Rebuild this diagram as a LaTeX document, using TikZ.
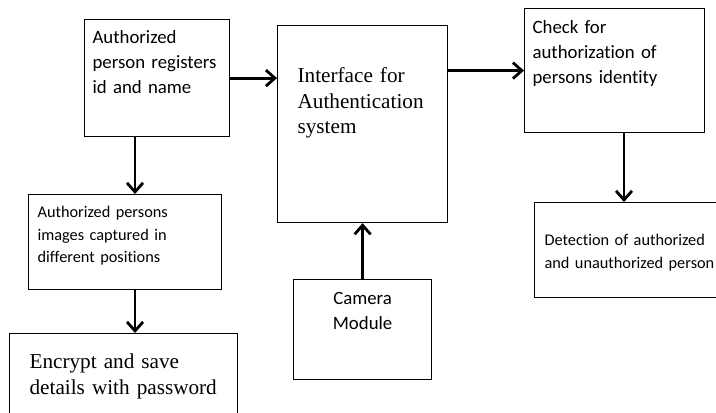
\documentclass[tikz,border=0pt]{standalone}
\usepackage{fontspec}
\setmainfont{Liberation Serif}
\newfontfamily\calibri[Ligatures=NoCommon]{Carlito}
\usetikzlibrary{arrows.meta}

\begin{document}
\begin{tikzpicture}[x=0.5pt, y=-0.5pt, >={Straight Barb[length=4.5pt,width=8pt]}]
        \tikzset{
            box/.style={rectangle, draw, line width=0.6pt, anchor=north west, align=left, inner xsep=4pt, inner ysep=0pt},
            flow/.style={->, line width=1.4pt},
            sans/.style={font=\calibri\fontsize{9.4}{12.5}\selectfont},
            small/.style={font=\calibri\fontsize{8.15}{11.3}\selectfont},
            serif/.style={font=\fontsize{10.6}{12.8}\selectfont}
        }

        \useasboundingbox (0,0) rectangle (716,412);
        \clip (0,0) rectangle (716,412);

        \node[box, sans, text width=64.5pt, text height=12pt, text depth=46.5pt] (reg) at (84,19) {Authorized\\person registers\\id and name};
        \node[box, serif, inner xsep=10pt, text width=65pt, text height=28.5pt, text depth=70pt] (iface) at (277,25) {Interface for\\Authentication\\system};
        \node[box, sans, text width=82pt, text height=12.5pt, text depth=49.5pt] (check) at (524,8) {Check for\\authorization of\\persons identity};

        \node[box, small, inner xsep=4.5pt, text width=87.5pt, text height=11.5pt, text depth=36pt] (imgs) at (28,194) {Authorized persons\\images captured in\\different positions};
        \node[box, small, inner xsep=5pt, text width=95pt, text height=21.5pt, text depth=26pt] (detect) at (534,202) {Detection of authorized\\and unauthorized person};
        \node[box, sans, align=center, text width=61pt, text height=12.5pt, text depth=37.5pt] (camera) at (293,279) {Camera\\Module};
        \node[box, serif, inner xsep=10pt, text width=94pt, text height=17.5pt, text depth=35pt] (encrypt) at (9,333) {Encrypt and save\\details with password};

        \draw[flow] (reg.east) -- (reg.east -| iface.west);
        \draw[flow] (iface.east |- check.west) -- (check.west);
        \draw[flow] ([xshift=50pt]check.south west) -- ([xshift=45pt]detect.north west);
        \draw[flow] ([xshift=25.5pt]reg.south west) -- ([xshift=53.5pt]imgs.north west);
        \draw[flow] ([xshift=53.5pt]imgs.south west) -- ([xshift=63pt]encrypt.north west);
        \draw[flow] (camera.north) -- (iface.south);

    \end{tikzpicture}
\end{document}
